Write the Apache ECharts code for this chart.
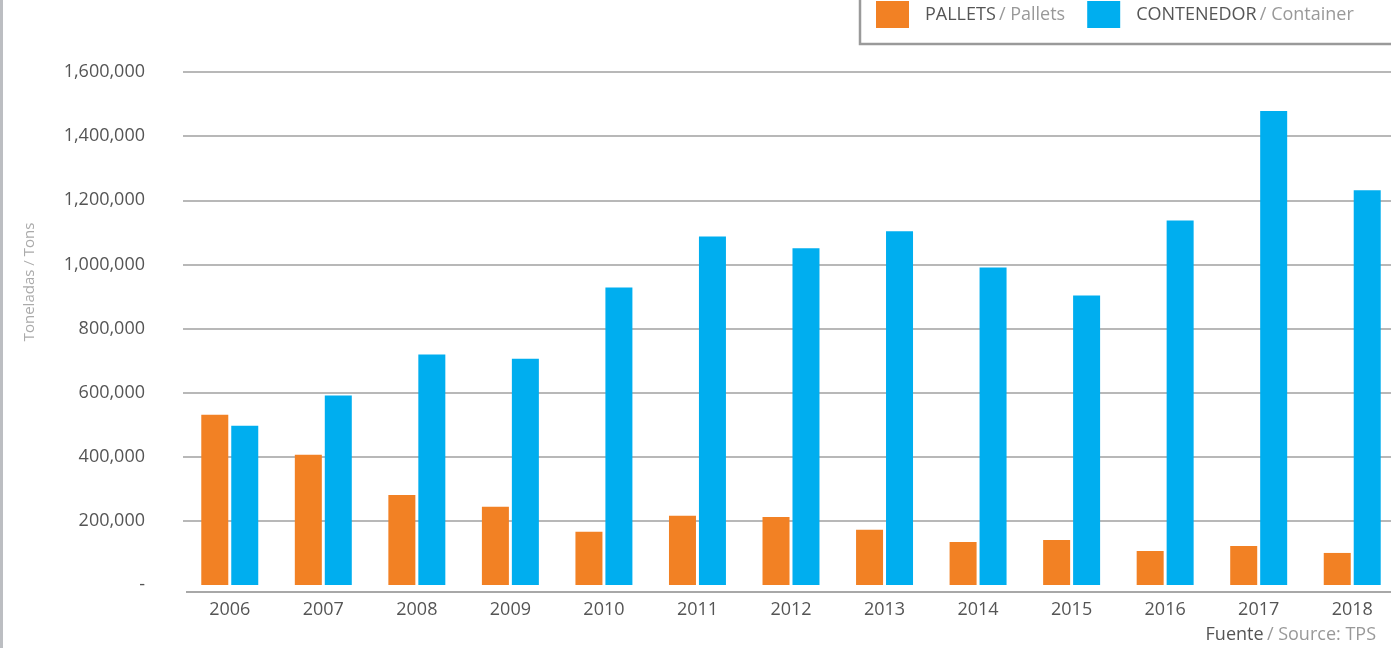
<!DOCTYPE html>
<html>
<head>
<meta charset="utf-8">
<script src="https://cdn.jsdelivr.net/npm/echarts@6/dist/echarts.min.js"></script>
<style>
  html, body { margin: 0; padding: 0; background: #fff; }
  #chart { width: 1391px; height: 648px; }
</style>
</head>
<body>
<div id="chart"></div>
<script>
// datos
var years = ['2006', '2007', '2008', '2009', '2010', '2011', '2012', '2013', '2014', '2015', '2016', '2017', '2018'];
var pallets = [531000, 406000, 281000, 244000, 166000, 216000, 212000, 172000, 134000, 140000, 106000, 122000, 100000];
var contenedor = [497000, 591000, 719000, 706000, 928000, 1087000, 1050000, 1103000, 990000, 903000, 1137000, 1478000, 1231000];
var yTicks = [0, 200000, 400000, 600000, 800000, 1000000, 1200000, 1400000, 1600000];

var chart = echarts.init(document.getElementById('chart'));

var font = '"Open Sans", sans-serif';

var option = {
  animation: false,
  textStyle: { fontFamily: font },
  grid: { left: 183, width: 1216, top: 72, bottom: 63, outerBoundsMode: 'none', containLabel: false },
  legend: {
    left: 876,
    top: 1,
    padding: 0,
    itemWidth: 33,
    itemHeight: 27,
    itemGap: 22,
    icon: 'rect',
    data: ['PALLETS', 'CONTENEDOR'],
    formatter: function (name) {
      if (name == 'PALLETS') return '{a|PALLETS} {b|/ Pallets}';
      return '{a|CONTENEDOR} {b|/ Container}';
    },
    textStyle: {
      padding: [0, 0, 0, 11],
      rich: {
        a: { color: '#555', fontSize: 18, fontFamily: font },
        b: { color: '#999', fontSize: 18, fontFamily: font }
      }
    }
  },
  xAxis: {
    type: 'category',
    data: years,
    axisLine: { show: false },
    axisTick: { show: false },
    axisLabel: { color: '#555', fontSize: 18, margin: 16 }
  },
  yAxis: {
    type: 'value',
    min: yTicks[0],
    max: yTicks[yTicks.length - 1],
    interval: 200000,
    axisLine: { show: false },
    axisTick: { show: false },
    axisLabel: {
      color: '#555',
      fontSize: 18,
      margin: 38,
      formatter: function (v) {
        if (v == 0) return '-';
        return v.toLocaleString('en-US');
      }
    },
    splitLine: { showMinLine: false, lineStyle: { color: '#a0a0a0', width: 1.6 } }
  },
  series: [
    {
      name: 'PALLETS',
      type: 'bar',
      data: pallets,
      barWidth: 27,
      barGap: '11%',
      itemStyle: { color: '#f28124' }
    },
    {
      name: 'CONTENEDOR',
      type: 'bar',
      data: contenedor,
      barWidth: 27,
      itemStyle: { color: '#00aeef' }
    }
  ],
  graphic: [
    { // borde gris a la izquierda
      type: 'rect',
      shape: { x: 0, y: 0, width: 3, height: 648 },
      style: { fill: '#bcbec2' }
    },
    { // caja de la leyenda
      type: 'rect',
      z: -1,
      shape: { x: 860, y: -10, width: 560, height: 54 },
      style: { fill: 'none', stroke: '#9a9a9a', lineWidth: 2.5 }
    },
    { // linea base del eje x, un poco por debajo del cero
      type: 'line',
      shape: { x1: 186, y1: 592, x2: 1391, y2: 592 },
      style: { stroke: '#a8a8a8', lineWidth: 2 }
    },
    {
      type: 'text',
      x: 30,
      y: 282,
      rotation: Math.PI / 2,
      style: {
        text: 'Toneladas / Tons',
        fill: '#aaa',
        fontSize: 15,
        fontFamily: font,
        align: 'center',
        verticalAlign: 'middle'
      }
    },
    {
      type: 'text',
      right: 15,
      top: 626,
      style: {
        text: '{a|Fuente} {b|/ Source: TPS}',
        rich: {
          a: { fill: '#555', fontSize: 18, fontFamily: font },
          b: { fill: '#999', fontSize: 18, fontFamily: font }
        }
      }
    }
  ]
};

chart.setOption(option);
</script>
</body>
</html>
